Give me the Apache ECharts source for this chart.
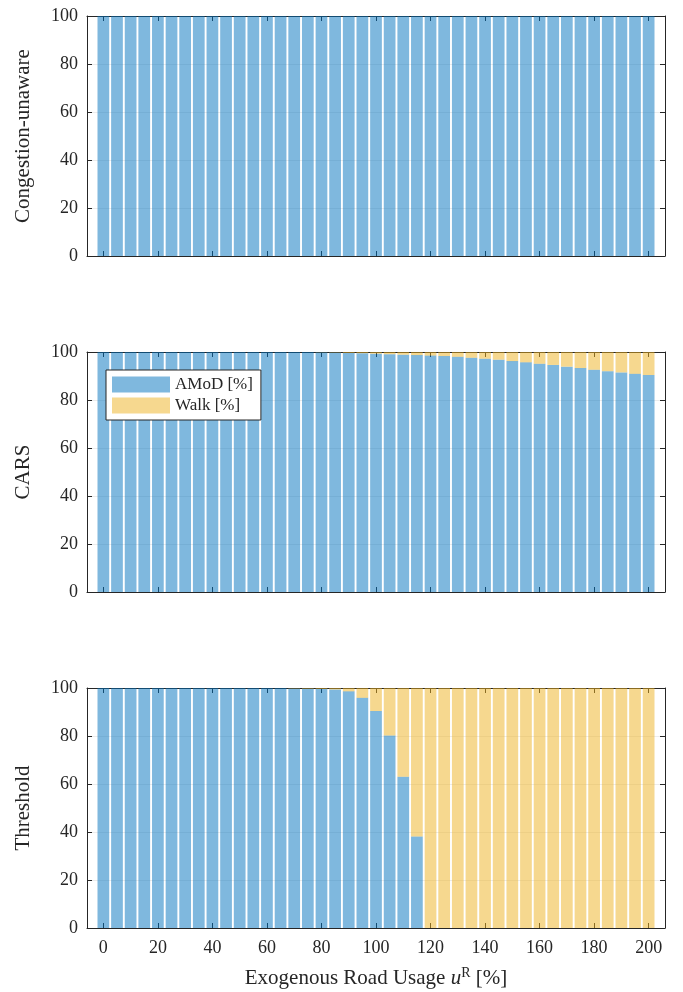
<!DOCTYPE html>
<html>
<head>
<meta charset="utf-8">
<script src="https://cdn.jsdelivr.net/npm/echarts@6/dist/echarts.min.js"></script>
<style>
  html, body { margin: 0; padding: 0; background: #fff; }
  #chart { width: 683px; height: 992px; }
</style>
</head>
<body>
<div id="chart"></div>
<script>
// Exogenous road usage levels [%]
const roadUsage = [0, 5, 10, 15, 20, 25, 30, 35, 40, 45, 50, 55, 60, 65, 70, 75, 80, 85, 90, 95,
  100, 105, 110, 115, 120, 125, 130, 135, 140, 145, 150, 155, 160, 165, 170, 175, 180, 185, 190, 195, 200];
const xTicks = [0, 20, 40, 60, 80, 100, 120, 140, 160, 180, 200];
const yTicks = [0, 20, 40, 60, 80, 100];

// Congestion-unaware routing: everyone rides AMoD
const unawareAMoD = [100, 100, 100, 100, 100, 100, 100, 100, 100, 100, 100, 100, 100, 100, 100, 100, 100, 100, 100, 100,
  100, 100, 100, 100, 100, 100, 100, 100, 100, 100, 100, 100, 100, 100, 100, 100, 100, 100, 100, 100, 100];
const unawareWalk = [0, 0, 0, 0, 0, 0, 0, 0, 0, 0, 0, 0, 0, 0, 0, 0, 0, 0, 0, 0,
  0, 0, 0, 0, 0, 0, 0, 0, 0, 0, 0, 0, 0, 0, 0, 0, 0, 0, 0, 0, 0];

// CARS
const carsAMoD = [100, 100, 100, 100, 100, 100, 100, 100, 100, 100, 100, 100, 100, 100, 100, 100, 99.9, 99.8, 99.6, 99.5,
  99.3, 99.1, 98.9, 98.7, 98.5, 98.3, 98.0, 97.6, 97.2, 96.8, 96.2, 95.7, 95.1, 94.6, 93.9, 93.3, 92.6, 92.0, 91.5, 90.9, 90.4];
const carsWalk = [0, 0, 0, 0, 0, 0, 0, 0, 0, 0, 0, 0, 0, 0, 0, 0, 0.1, 0.2, 0.4, 0.5,
  0.7, 0.9, 1.1, 1.3, 1.5, 1.7, 2.0, 2.4, 2.8, 3.2, 3.8, 4.3, 4.9, 5.4, 6.1, 6.7, 7.4, 8.0, 8.5, 9.1, 9.6];

// Threshold
const thrAMoD = [100, 100, 100, 100, 100, 100, 100, 100, 100, 100, 100, 100, 100, 100, 99.8, 99.7, 99.6, 99.4, 98.6, 95.9,
  90.4, 80.2, 63.0, 38.1, 0, 0, 0, 0, 0, 0, 0, 0, 0, 0, 0, 0, 0, 0, 0, 0, 0];
const thrWalk = [0, 0, 0, 0, 0, 0, 0, 0, 0, 0, 0, 0, 0, 0, 0.2, 0.3, 0.4, 0.6, 1.4, 4.1,
  9.6, 19.8, 37.0, 61.9, 100, 100, 100, 100, 100, 100, 100, 100, 100, 100, 100, 100, 100, 100, 100, 100, 100];

const panels = [
  { name: 'Congestion-unaware', amod: unawareAMoD, walk: unawareWalk },
  { name: 'CARS', amod: carsAMoD, walk: carsWalk },
  { name: 'Threshold', amod: thrAMoD, walk: thrWalk }
];

const FONT = 'Liberation Serif';
const TEXT_COLOR = '#262626';
const AXIS_COLOR = '#262626';
const BLUE = 'rgba(0, 114, 189, 0.5)';
const YELLOW = 'rgba(237, 177, 32, 0.5)';

// Axis frame: x runs from xMin to xMax; bars sit on a category band
// that is aligned with the same value scale.
const xMin = -6, xMax = 206;
const step = roadUsage[1] - roadUsage[0];
const boxLeft = 87, boxRight = 18;
const plotWidth = 683 - boxLeft - boxRight;
const pxPerUnit = plotWidth / (xMax - xMin);
const bandLeft = boxLeft + (roadUsage[0] - step / 2 - xMin) * pxPerUnit;
const bandRight = boxRight + (xMax - (roadUsage[roadUsage.length - 1] + step / 2)) * pxPerUnit;
const gridTops = [16, 352, 688];
const gridHeight = 240;

const grids = [], xAxes = [], yAxes = [], series = [];

panels.forEach((p, i) => {
  const isLast = i === panels.length - 1;
  const lineStyle = { color: AXIS_COLOR, width: 1 };
  const gBox = grids.length;
  grids.push({ left: boxLeft, right: boxRight, top: gridTops[i], height: gridHeight });
  const gBar = grids.length;
  grids.push({ left: bandLeft, right: bandRight, top: gridTops[i], height: gridHeight });

  // bottom x axis
  xAxes.push({
    type: 'value', gridIndex: gBox, min: xMin, max: xMax, position: 'bottom',
    axisLine: { show: true, onZero: false, lineStyle },
    axisTick: { show: true, inside: true, length: 5, lineStyle, customValues: xTicks },
    axisLabel: {
      show: isLast, customValues: xTicks, margin: 11,
      fontFamily: FONT, fontSize: 18, color: TEXT_COLOR
    },
    splitLine: { show: false },
    name: isLast ? '{a|Exogenous Road Usage }{i|u}{s|R}{a| [%]}' : '',
    nameLocation: 'middle', nameGap: 38,
    nameTextStyle: {
      rich: {
        a: { fontFamily: FONT, fontSize: 21, color: TEXT_COLOR },
        i: { fontFamily: FONT, fontSize: 21, fontStyle: 'italic', color: TEXT_COLOR },
        s: { fontFamily: FONT, fontSize: 14, color: TEXT_COLOR, verticalAlign: 'top', padding: [0, 0, 10, 0] }
      }
    }
  });
  // top x axis (frame edge with ticks)
  xAxes.push({
    type: 'value', gridIndex: gBox, min: xMin, max: xMax, position: 'top',
    axisLine: { show: true, onZero: false, lineStyle },
    axisTick: { show: true, inside: true, length: 5, lineStyle, customValues: xTicks },
    axisLabel: { show: false },
    splitLine: { show: false }
  });
  // category axis carrying the bars
  const xBar = xAxes.length;
  xAxes.push({
    type: 'category', gridIndex: gBar, data: roadUsage, boundaryGap: true,
    axisLine: { show: false }, axisTick: { show: false }, axisLabel: { show: false },
    splitLine: { show: false }
  });

  // left y axis
  yAxes.push({
    type: 'value', gridIndex: gBox, min: 0, max: 100, interval: 20, position: 'left',
    axisLine: { show: true, onZero: false, lineStyle },
    axisTick: { show: true, inside: true, length: 5, lineStyle },
    axisLabel: { margin: 9, fontFamily: FONT, fontSize: 18, color: TEXT_COLOR },
    splitLine: { show: true, lineStyle: { color: '#ececec', width: 1 } },
    name: p.name, nameLocation: 'middle', nameRotate: 90, nameGap: 53,
    nameTextStyle: { fontFamily: FONT, fontSize: 21, color: TEXT_COLOR }
  });
  // right y axis (frame edge with ticks)
  yAxes.push({
    type: 'value', gridIndex: gBox, min: 0, max: 100, interval: 20, position: 'right',
    axisLine: { show: true, onZero: false, lineStyle },
    axisTick: { show: true, inside: true, length: 5, lineStyle },
    axisLabel: { show: false },
    splitLine: { show: false }
  });
  // value axis carrying the bars
  const yBar = yAxes.length;
  yAxes.push({
    type: 'value', gridIndex: gBar, min: 0, max: 100, interval: 20,
    axisLine: { show: false }, axisTick: { show: false }, axisLabel: { show: false },
    splitLine: { show: false }
  });

  const stackId = 'mode' + i;
  series.push({
    name: 'AMoD [%]', type: 'bar', stack: stackId,
    xAxisIndex: xBar, yAxisIndex: yBar, barCategoryGap: '14%',
    itemStyle: { color: BLUE },
    data: p.amod
  });
  series.push({
    name: 'Walk [%]', type: 'bar', stack: stackId,
    xAxisIndex: xBar, yAxisIndex: yBar, barCategoryGap: '14%',
    itemStyle: { color: YELLOW },
    data: p.walk
  });
});

const chart = echarts.init(document.getElementById('chart'), null, { renderer: 'canvas' });
chart.setOption({
  animation: false,
  backgroundColor: '#fff',
  grid: grids,
  xAxis: xAxes,
  yAxis: yAxes,
  legend: {
    data: ['AMoD [%]', 'Walk [%]'],
    orient: 'vertical', left: 106, top: 370,
    icon: 'rect', itemWidth: 58, itemHeight: 16, itemGap: 4,
    padding: [6, 8, 6, 6],
    backgroundColor: '#fff', borderColor: AXIS_COLOR, borderWidth: 1,
    textStyle: { fontFamily: FONT, fontSize: 17, color: TEXT_COLOR },
    selectedMode: false
  },
  series: series
});
</script>
</body>
</html>
